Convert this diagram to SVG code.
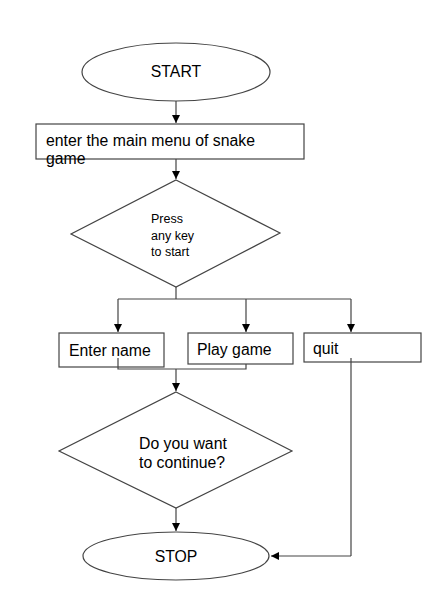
<svg xmlns="http://www.w3.org/2000/svg" width="430" height="602" viewBox="0 0 430 602">
<defs>
<marker id="ah" markerWidth="10" markerHeight="10" refX="8" refY="4" orient="auto" markerUnits="userSpaceOnUse">
<path d="M0,0 L8,4 L0,8 Z" fill="#000"/>
</marker>
<style>
.s{fill:#fff;stroke:#444;stroke-width:1.2}
.c{fill:none;stroke:#444;stroke-width:1.2}
.t{font-family:"Liberation Sans",Arial,sans-serif;font-size:15.8px;fill:#000}
.sm{font-size:12.5px}
</style>
</defs>
<rect width="430" height="602" fill="#fff"/>
<g id="connectors">
<path class="c" d="M176,101 V123" marker-end="url(#ah)"/>
<path class="c" d="M176,159 V179" marker-end="url(#ah)"/>
<path class="c" d="M176,287 V299"/>
<path class="c" d="M118,299 H351"/>
<path class="c" d="M118,299 V332" marker-end="url(#ah)"/>
<path class="c" d="M246,299 V332" marker-end="url(#ah)"/>
<path class="c" d="M351,299 V332" marker-end="url(#ah)"/>
<path class="c" d="M176,369 V391" marker-end="url(#ah)"/>
<path class="c" d="M176,508 V531" marker-end="url(#ah)"/>
<path class="c" d="M351,556 H271" marker-end="url(#ah)"/>
</g>
<g id="start">
<ellipse class="s" cx="176" cy="72" rx="94" ry="29"/>
<text class="t" x="176" y="77" text-anchor="middle">START</text>
</g>
<g id="menu">
<rect class="s" x="36" y="124" width="268" height="35"/>
<text class="t" x="46" y="146">enter the main menu of snake</text>
<text class="t" x="46" y="164">game</text>
</g>
<g id="press">
<polygon class="s" points="176,180 280,233 176,287 71,234"/>
<text class="t sm" x="151" y="223">Press</text>
<text class="t sm" x="151" y="240">any key</text>
<text class="t sm" x="151" y="256">to start</text>
</g>
<g id="entername">
<rect class="s" x="59" y="333" width="105" height="34"/>
<text class="t" x="69" y="356">Enter name</text>
</g>
<g id="playgame">
<rect class="s" x="188" y="333" width="105" height="31"/>
<text class="t" x="197" y="355">Play game</text>
</g>
<g id="quit">
<rect class="s" x="304" y="333" width="117" height="29"/>
<text class="t" x="313" y="354">quit</text>
</g>
<g id="merge">
<path class="c" d="M118,358 V369 H246 V364"/>
<path class="c" d="M351,358 V556"/>
</g>
<g id="continue">
<polygon class="s" points="176,392 292,451 176,508 59,451"/>
<text class="t" x="139" y="449">Do you want</text>
<text class="t" x="139" y="468">to continue?</text>
</g>
<g id="stop">
<ellipse class="s" cx="176" cy="556" rx="93" ry="24"/>
<text class="t" x="176" y="562" text-anchor="middle">STOP</text>
</g>
</svg>
